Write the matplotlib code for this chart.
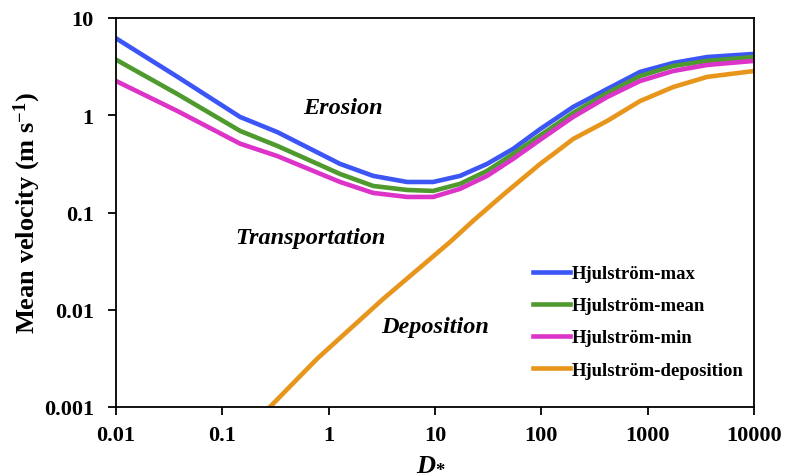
import matplotlib
matplotlib.use("Agg")
import matplotlib.pyplot as plt

# ---- data ----
d_star = [0.01, 0.0375, 0.147, 0.33, 1.28, 2.62, 5.46, 9.6, 17.2, 30.9, 54.3,
          97.5, 199, 416, 849, 1738, 3630, 10000]
v_max = [6.18, 2.5, 0.96, 0.67, 0.316, 0.238, 0.206, 0.206, 0.238, 0.316, 0.451,
         0.72, 1.216, 1.86, 2.79, 3.45, 3.97, 4.27]
v_mean = [3.73, 1.66, 0.69, 0.483, 0.249, 0.1875, 0.1705, 0.1667, 0.197, 0.268, 0.40,
          0.62, 1.056, 1.69, 2.53, 3.21, 3.62, 3.97]
v_min = [2.25, 1.11, 0.51, 0.38, 0.206, 0.159, 0.1445, 0.1445, 0.175, 0.238, 0.356,
         0.56, 0.96, 1.54, 2.25, 2.85, 3.29, 3.62]

d_star_dep = [0.28, 0.778, 3.25, 13.9, 22.8, 43.7, 97.5, 150, 199, 416, 849, 1738, 3630, 10000]
v_dep = [0.001, 0.00313, 0.0129, 0.0499, 0.082, 0.152, 0.316, 0.45, 0.57, 0.874,
         1.40, 1.95, 2.48, 2.85]

series_names = ["Hjulström-max", "Hjulström-mean", "Hjulström-min", "Hjulström-deposition"]
colors = ["#3c55f5", "#4f9a2f", "#dc33c8", "#e8951c"]

x_ticks = [0.01, 0.1, 1, 10, 100, 1000, 10000]
x_ticklabels = ["0.01", "0.1", "1", "10", "100", "1000", "10000"]
y_ticks = [0.001, 0.01, 0.1, 1, 10]
y_ticklabels = ["0.001", "0.01", "0.1", "1", "10"]

plt.rcParams["font.family"] = ["Liberation Serif", "DejaVu Serif"]
plt.rcParams["font.weight"] = "bold"
plt.rcParams["mathtext.fontset"] = "custom"
plt.rcParams["mathtext.rm"] = "Liberation Serif:bold"
plt.rcParams["mathtext.it"] = "Liberation Serif:italic:bold"
plt.rcParams["mathtext.bf"] = "Liberation Serif:bold"

fig = plt.figure(figsize=(7.86, 4.77), dpi=100)
ax = fig.add_axes([116 / 786, 1 - 408 / 477, (754 - 116) / 786, (408 - 19) / 477])

ys = [v_max, v_mean, v_min]
for y, name, c in zip(ys, series_names[:3], colors[:3]):
    ax.plot(d_star, y, color=c, lw=3.3, label=name)
ax.plot(d_star_dep, v_dep, color=colors[3], lw=3.3, label=series_names[3])

ax.set_xscale("log")
ax.set_yscale("log")
ax.set_xlim(0.01, 10000)
ax.set_ylim(0.001, 10)
ax.set_xticks(x_ticks)
ax.set_xticklabels(x_ticklabels)
ax.set_yticks(y_ticks)
ax.set_yticklabels(y_ticklabels)
ax.minorticks_off()
ax.tick_params(direction="out", length=6, width=1.3, labelsize=16)
ax.tick_params(axis="x", pad=7)
ax.tick_params(axis="y", pad=10)
for s in ax.spines.values():
    s.set_linewidth(1.3)

ax.set_ylabel("Mean velocity (m s$^{-1}$)", fontsize=19, fontweight="bold")
ax.yaxis.set_label_coords(-0.115, 0.5)
ax.set_xlabel(r"$\mathit{D}_{*}$", fontsize=19)
ax.xaxis.set_label_coords(0.494, -0.115)

txt = dict(transform=ax.transAxes, fontsize=17.5, style="italic",
           fontweight="bold", ha="center", va="center")
ax.text(0.356, 0.771, "Erosion", **txt)
ax.text(0.304, 0.435, "Transportation", **txt)
ax.text(0.5, 0.208, "Deposition", **txt)

ax.legend(loc="upper left", bbox_to_anchor=(0.654, 0.365), frameon=False,
          borderpad=0, borderaxespad=0, handlelength=1.95, handletextpad=0.1,
          labelspacing=0.8, prop={"weight": "bold", "size": 13.5})

fig.savefig("out.png", dpi=100)
